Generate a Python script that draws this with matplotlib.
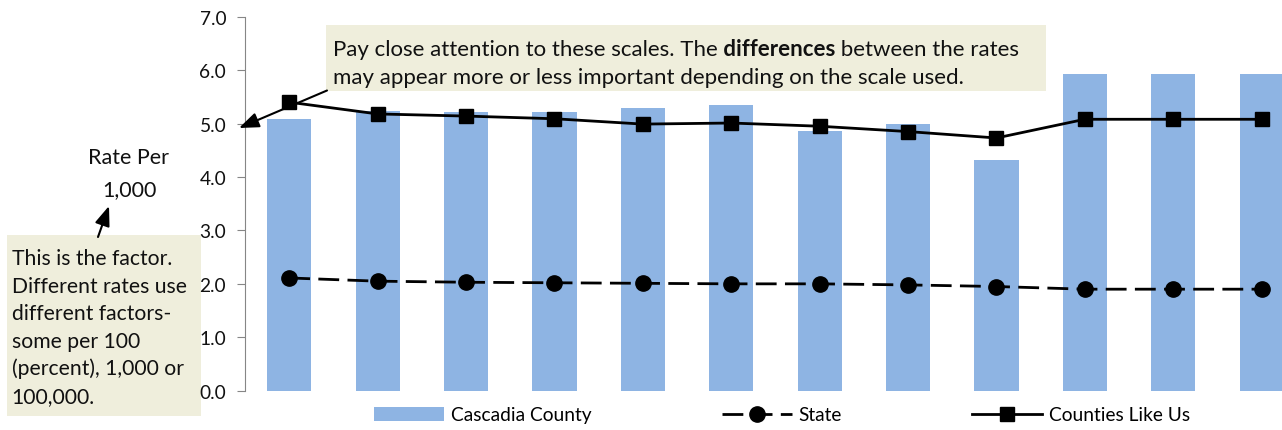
import matplotlib
matplotlib.use("Agg")
import matplotlib.pyplot as plt
from matplotlib.patches import Rectangle, FancyArrowPatch
import numpy as np

# ---------------- data ----------------
periods = list(range(1, 13))
cascadia_county = [5.09, 5.24, 5.22, 5.22, 5.29, 5.35, 4.87, 4.99, 4.32, 5.93, 5.93, 5.93]
state = [2.11, 2.05, 2.03, 2.02, 2.01, 2.00, 2.00, 1.98, 1.95, 1.90, 1.90, 1.90]
counties_like_us = [5.40, 5.18, 5.14, 5.09, 4.99, 5.01, 4.95, 4.85, 4.73, 5.08, 5.08, 5.08]
y_ticks = [0, 1, 2, 3, 4, 5, 6, 7]
y_tick_labels = ["0.0", "1.0", "2.0", "3.0", "4.0", "5.0", "6.0", "7.0"]
series_labels = ["Cascadia County", "State", "Counties Like Us"]

box1_lines = ["Pay close attention to these scales. The", " differences", " between the rates",
              "may appear more or less important depending on the scale used."]
box2_lines = ["This is the factor.", "Different rates use", "different factors-",
              "some per 100", "(percent), 1,000 or", "100,000."]
rate_lines = ["Rate Per", "1,000"]

# ---------------- style ----------------
plt.rcParams["font.family"] = ["Lato", "DejaVu Sans"]
W, H = 1282, 431
BAR_COLOR = "#8EB4E3"
BOX_COLOR = "#EFEEDC"
AXIS_GRAY = "#868686"

fig = plt.figure(figsize=(W / 100, H / 100), dpi=100)
renderer = fig.canvas.get_renderer()


def fx(x):
    return x / W


def fy(y):
    return 1 - y / H


def fit_size(s, target_px, weight="normal"):
    t = fig.text(0, 0, s, fontsize=20, fontweight=weight)
    w = t.get_window_extent(renderer=renderer).width
    t.remove()
    return 20 * target_px / w


leg_fs = fit_size("Cascadia County", 141)
box1_fs = fit_size(box1_lines[3], 629)
box2_fs = fit_size("This is the factor.", 160)
rate_fs = fit_size("Rate Per", 81)

# ---------------- axes ----------------
slot = 88.4
ax = fig.add_axes([fx(245), 1 - 391.7 / H, 12 * slot / W, 374 / H])
ax.set_facecolor("none")
x = np.arange(len(periods))

bars = ax.bar(x, cascadia_county, width=0.5, color=BAR_COLOR, zorder=1)
lw = 2.0
(l_state,) = ax.plot(x, state, color="black", lw=lw, linestyle=(0, (15 / lw, 6 / lw)),
                     marker="o", ms=11, zorder=3)
(l_cnty,) = ax.plot(x, counties_like_us, color="black", lw=lw, marker="s", ms=10.5, zorder=3)

ax.set_xlim(-0.5, len(periods) - 0.5)
ax.set_ylim(0, 7)
for s in ["top", "right", "bottom"]:
    ax.spines[s].set_visible(False)
ax.spines["left"].set_color(AXIS_GRAY)
ax.spines["left"].set_linewidth(0.8)
ax.set_xticks([])
ax.set_yticks(y_ticks, y_tick_labels)
ax.tick_params(axis="y", length=5.5, width=0.8, color=AXIS_GRAY, pad=8,
               labelsize=leg_fs, labelcolor="#111111")

# ---------------- legend ----------------
fs_px = leg_fs * 100 / 72
fig.legend([bars, l_state, l_cnty], series_labels, loc="center",
           bbox_to_anchor=(fx(782), fy(416)), ncol=3, frameon=False, fontsize=leg_fs,
           handlelength=70 / fs_px, handletextpad=7 / fs_px, columnspacing=130 / fs_px,
           borderpad=0, borderaxespad=0, numpoints=1)

# ---------------- annotation box 1 ----------------
fig.add_artist(Rectangle((fx(326), fy(92)), fx(1046) - fx(326), fy(26) - fy(92),
                         transform=fig.transFigure, facecolor=BOX_COLOR, edgecolor="none", zorder=2))
xcur = 333
for s, wgt in zip(box1_lines[:3], ["normal", "bold", "normal"]):
    t = fig.text(fx(xcur), fy(55.5), s, fontsize=box1_fs, fontweight=wgt, va="baseline",
                 ha="left", color="#111111", zorder=5)
    xcur += t.get_window_extent(renderer=renderer).width
fig.text(fx(333), fy(84.5), box1_lines[3], fontsize=box1_fs, va="baseline", ha="left",
         color="#111111", zorder=5)

fig.add_artist(FancyArrowPatch((fx(327), fy(91.5)), (fx(239), fy(129)), transform=fig.transFigure,
                               arrowstyle="-|>,head_length=12,head_width=4.6", mutation_scale=1,
                               lw=1.5, color="black", shrinkA=0, shrinkB=0, zorder=4))

# ---------------- annotation box 2 ----------------
fig.add_artist(Rectangle((fx(6.7), fy(417.3)), fx(201) - fx(6.7), fy(236) - fy(417.3),
                         transform=fig.transFigure, facecolor=BOX_COLOR, edgecolor="none", zorder=-1))
baselines = [265, 292.7, 320, 348, 375.5, 403]
for s, yb in zip(box2_lines, baselines):
    fig.text(fx(11.7), fy(yb), s, fontsize=box2_fs, va="baseline", ha="left", color="#111111")

# ---------------- rate label ----------------
fig.text(fx(129), fy(164), rate_lines[0], fontsize=rate_fs, va="baseline", ha="center", color="#111111")
fig.text(fx(129), fy(196), rate_lines[1], fontsize=rate_fs, va="baseline", ha="center", color="#111111")
fig.add_artist(FancyArrowPatch((fx(98), fy(238)), (fx(109), fy(207)), transform=fig.transFigure,
                               arrowstyle="-|>,head_length=12,head_width=4.6", mutation_scale=1,
                               lw=1.5, color="black", shrinkA=0, shrinkB=0, zorder=4))

fig.savefig("out.png", dpi=100)
